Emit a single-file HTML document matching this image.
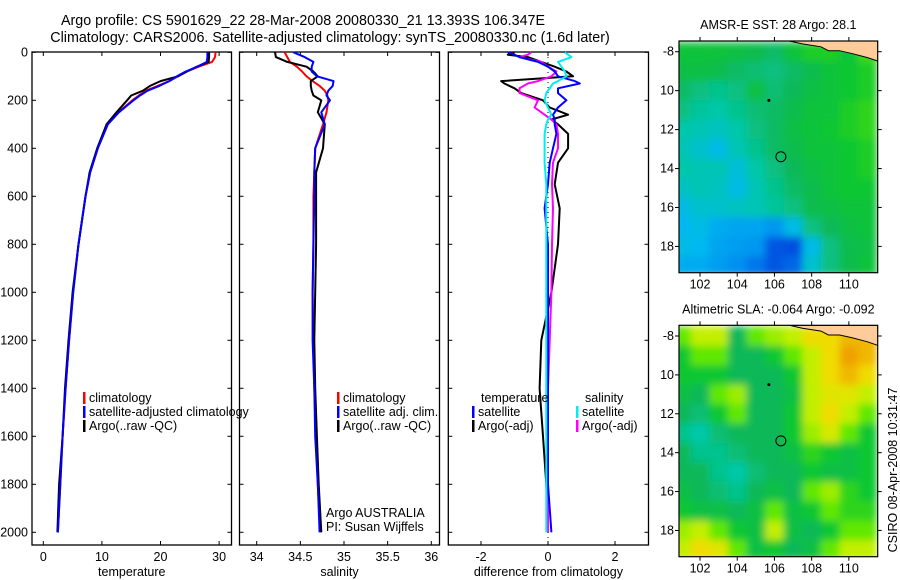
<!DOCTYPE html>
<html><head><meta charset="utf-8"><style>
html,body{margin:0;padding:0;background:#fff}
svg{display:block;font-family:"Liberation Sans",sans-serif}
</style></head><body>
<svg id="fig" width="900" height="580" viewBox="0 0 900 580" xmlns="http://www.w3.org/2000/svg">
<defs>
<filter id="blur1" filterUnits="userSpaceOnUse" x="679" y="41" width="199" height="232"><feGaussianBlur stdDeviation="4" edgeMode="duplicate"/></filter>
<filter id="blur2" filterUnits="userSpaceOnUse" x="679" y="325" width="199" height="232"><feGaussianBlur stdDeviation="4" edgeMode="duplicate"/></filter>
<clipPath id="clipm1"><rect x="679" y="41" width="199" height="232"/></clipPath>
<clipPath id="clipm2"><rect x="679" y="325" width="199" height="232"/></clipPath>
</defs>
<text x="303" y="25" font-size="14.3" text-anchor="middle">Argo profile: CS 5901629_22 28-Mar-2008 20080330_21 13.393S 106.347E</text>
<text x="330" y="42" font-size="14.3" text-anchor="middle">Climatology: CARS2006. Satellite-adjusted climatology: synTS_20080330.nc (1.6d later)</text>
<g id="g"></g>
</svg>
<script>
// ---------- data ----------
const depths = [0,20,40,60,80,100,120,140,160,180,200,250,300,400,500,600,800,1000,1200,1400,1600,1800,2000];
const tempClim = [29.4,29.3,28.8,26.5,24.5,23.0,21.5,19.5,17.5,16.3,15.2,12.8,11.0,9.3,8.0,7.2,6.0,5.1,4.4,3.8,3.3,2.9,2.5];
const tempSat  = [28.0,28.0,27.9,26.3,24.3,22.8,21.5,19.8,17.8,16.5,15.4,12.9,11.0,9.3,8.0,7.2,6.0,5.1,4.4,3.8,3.3,2.9,2.5];
const tempArgo = [28.3,28.3,28.2,26.2,24.5,23.0,20.0,18.2,17.0,15.0,14.3,12.5,10.8,9.2,7.9,7.2,6.0,5.0,4.3,3.7,3.3,2.7,2.4];
const salClim = [34.32,34.35,34.38,34.46,34.52,34.57,34.64,34.72,34.78,34.81,34.82,34.80,34.76,34.67,34.66,34.65,34.65,34.64,34.65,34.66,34.68,34.70,34.73];
const salSat  = [34.42,34.55,34.65,34.63,34.63,34.69,34.88,34.87,34.82,34.80,34.84,34.74,34.78,34.67,34.66,34.66,34.65,34.64,34.64,34.66,34.67,34.70,34.72];
const salArgo = [34.21,34.22,34.35,34.57,34.65,34.70,34.62,34.62,34.63,34.65,34.74,34.70,34.78,34.76,34.68,34.68,34.68,34.67,34.66,34.67,34.69,34.71,34.74];
const diffDepths = [0,10,20,40,60,80,100,120,130,150,170,200,230,260,280,300,340,400,460,550,650,800,1000,1200,1400,1600,1800,2000];
const diffTempArgo = [-1.0,-1.2,-0.6,-0.2,0.2,0.55,0.75,-1.4,-1.3,-1.0,-0.8,-0.15,0.05,0.6,0.1,0.3,0.6,0.6,0.3,0.2,0.35,0.3,0.1,-0.2,-0.25,-0.15,-0.05,0.0];
const diffTempSat  = [-1.2,-1.0,-0.85,-0.3,0.0,0.2,0.3,0.8,0.95,0.3,0.3,0.55,0.3,0.15,0.2,0.2,0.25,0.15,0.05,0.0,-0.1,0.0,0.0,0.0,0.0,0.0,0.0,0.1];
const diffSalArgo  = [-0.5,-0.6,-0.85,-0.2,0.0,0.25,0.1,-0.3,-0.6,-0.85,-0.85,-0.3,-0.4,-0.1,0.1,0.25,0.3,0.3,0.15,0.12,0.15,0.12,0.1,0.05,0.0,0.0,0.0,0.0];
const diffSalSat   = [0.5,0.6,0.7,0.3,0.4,0.5,0.55,0.3,0.15,0.05,-0.05,-0.1,0.0,0.1,0.0,-0.05,-0.1,-0.1,-0.1,-0.05,-0.05,-0.05,-0.05,-0.05,-0.05,-0.05,-0.05,-0.05];
const depthTicks = [0,200,400,600,800,1000,1200,1400,1600,1800,2000];
const tempTicks = [0,10,20,30];
const salTicks = [34,34.5,35,35.5,36];
const diffTicks = [-2,0,2];
const mapLons = [101,102,103,104,105,106,107,108,109,110,111];
const mapLats = [-8,-9,-10,-11,-12,-13,-14,-15,-16,-17,-18,-19];
const lonTicks = [102,104,106,108,110];
const latTicks = [-8,-10,-12,-14,-16,-18];
const sstGrid = [
[28.3,28.3,28.3,28.25,28.2,28.1,28.3,28.4,28.4,28.3,28.5],
[28.25,28.25,28.2,28.1,28.05,28.0,28.1,28.2,28.3,28.35,28.4],
[28.1,28.0,27.95,28.0,28.25,28.05,28.15,28.25,28.3,28.35,28.4],
[28.0,27.9,27.85,27.95,28.05,28.1,28.2,28.3,28.3,28.4,28.45],
[27.85,27.8,27.75,27.85,28.0,28.1,28.25,28.3,28.35,28.4,28.45],
[27.8,27.7,27.6,27.8,27.95,28.1,28.2,28.3,28.3,28.35,28.4],
[27.85,27.8,27.8,27.65,27.85,28.0,28.15,28.25,28.3,28.35,28.4],
[27.75,27.8,27.75,27.6,27.8,27.95,28.1,28.2,28.3,28.35,28.35],
[27.6,27.7,27.7,27.75,27.8,27.9,28.0,28.2,28.25,28.3,28.3],
[27.55,27.6,27.45,27.4,27.4,27.3,27.6,28.0,28.15,28.25,28.3],
[27.6,27.55,27.4,27.35,27.3,26.9,26.85,27.6,28.0,28.2,28.25],
[27.45,27.45,27.35,27.25,27.1,26.9,27.0,27.7,28.0,28.2,28.3]];
const slaGrid = [
[0.07,0.12,0.12,-0.02,0.07,0.10,0.12,0.17,0.17,0.20,0.20],
[0.02,0.07,0.07,-0.02,-0.02,0.02,0.07,0.12,0.17,0.22,0.20],
[0.02,0.02,0.02,-0.02,-0.02,-0.02,0.02,0.12,0.17,0.20,0.17],
[0.0,-0.02,0.07,0.10,-0.02,-0.02,0.0,0.12,0.15,0.15,0.12],
[-0.02,-0.04,0.02,0.07,-0.02,-0.02,0.02,0.12,0.17,0.12,0.07],
[-0.06,-0.08,-0.04,-0.02,-0.02,-0.02,0.02,0.10,0.14,0.07,0.02],
[-0.02,-0.06,-0.06,-0.04,-0.02,-0.02,0.0,0.04,0.02,0.0,0.02],
[-0.02,-0.02,-0.06,-0.08,-0.04,-0.02,-0.02,0.02,0.0,0.0,0.02],
[0.0,-0.02,-0.04,-0.06,-0.02,0.0,-0.02,0.07,0.10,0.04,0.02],
[0.02,0.0,0.0,-0.02,0.0,0.07,0.0,0.02,0.07,0.04,0.04],
[0.10,0.12,0.07,0.02,0.0,0.12,0.0,-0.02,0.02,0.07,0.07],
[0.12,0.17,0.15,0.07,0.0,0.02,-0.02,0.0,0.07,0.12,0.12]];
const coastLon = [106.8,107.5,108.5,108.9,109.5,110.2,111.0,111.6];
const coastLat = [-7.45,-7.6,-7.75,-7.95,-7.95,-8.1,-8.3,-8.5];
const floatLon = 106.347, floatLat = -13.393;

// ---------- helpers ----------
const NS="http://www.w3.org/2000/svg";
const G=document.getElementById('g');
function mk(tag,attrs,parent){const e=document.createElementNS(NS,tag);for(const k in attrs)e.setAttribute(k,attrs[k]);(parent||G).appendChild(e);return e;}
const yTop=52.3, yPx=0.24, boxTop=52, boxBot=545;
const yD=d=>yTop+d*yPx;
const panels=[
 {x0:32,x1:231.5,sx:v=>43.3+v*5.86,ticks:tempTicks,label:'temperature',name:'temperature-panel'},
 {x0:239.5,x1:439.5,sx:v=>256.7+(v-34)*87.3,ticks:salTicks,label:'salinity',name:'salinity-panel'},
 {x0:448.3,x1:648.5,sx:v=>548+v*33.5,ticks:diffTicks,label:'difference from climatology',name:'difference-panel'}];
panels.forEach((p,i)=>{
 const r=mk('rect',{x:p.x0,y:boxTop,width:p.x1-p.x0,height:boxBot-boxTop,fill:'none',stroke:'#000','stroke-width':1.3});
 
 
 p.ticks.forEach(t=>{const x=p.sx(t);
  mk('line',{x1:x,x2:x,y1:boxBot,y2:boxBot-4,stroke:'#000'});
  mk('line',{x1:x,x2:x,y1:boxTop,y2:boxTop+4,stroke:'#000'});
  const tx=mk('text',{x:x,y:561,'font-size':12.5,'text-anchor':'middle'});tx.textContent=String(t);
  
  
 });
 depthTicks.forEach(d=>{const y=yD(d);
  mk('line',{x1:p.x0,x2:p.x0+4,y1:y,y2:y,stroke:'#000'});
  mk('line',{x1:p.x1,x2:p.x1-4,y1:y,y2:y,stroke:'#000'});
  if(i===0){const t=mk('text',{x:28,y:y+4,'font-size':12.5,'text-anchor':'end'});t.textContent=String(d);
   
   }
 });
 const xl=mk('text',{x:(p.x0+p.x1)/2,y:576,'font-size':12.5,'text-anchor':'middle'});xl.textContent=p.label;
 
 
});
function line(p,vals,ds,color,name,w){
 const pts=vals.map((v,k)=>p.sx(v).toFixed(1)+','+yD(ds[k]).toFixed(1)).join(' ');
 const e=mk('polyline',{points:pts,fill:'none',stroke:color,'stroke-width':w||2,'stroke-linejoin':'round'});
 
 
}
line(panels[0],tempClim,depths,'#f00','temperature-climatology-line');
line(panels[0],tempArgo,depths,'#000','temperature-argo-line');
line(panels[0],tempSat,depths,'#00f','temperature-satellite-line');
line(panels[1],salClim,depths,'#f00','salinity-climatology-line');
line(panels[1],salArgo,depths,'#000','salinity-argo-line');
line(panels[1],salSat,depths,'#00f','salinity-satellite-line');
mk('line',{x1:panels[2].sx(0),x2:panels[2].sx(0),y1:boxTop,y2:boxBot,stroke:'#000','stroke-dasharray':'1,4'});
line(panels[2],diffTempArgo,diffDepths,'#000','temperature-argo-diff-line');
line(panels[2],diffSalArgo,diffDepths,'#f0f','salinity-argo-diff-line');
line(panels[2],diffTempSat,diffDepths,'#00f','temperature-satellite-diff-line');
line(panels[2],diffSalSat,diffDepths,'#0ee','salinity-satellite-diff-line');

function legend(x,y,color,text,name){
 const b=mk('rect',{x:x,y:y-10,width:2.5,height:12,fill:color});
 
 
 const t=mk('text',{x:x+6,y:y,'font-size':12.5});t.textContent=text;
 
 
}
legend(83,402,'#f00','climatology','legend-climatology');
legend(83,416,'#00f','satellite-adjusted climatology','legend-satellite-adjusted');
legend(83,430,'#000','Argo(..raw -QC)','legend-argo');
legend(337,402,'#f00','climatology','legend-sal-climatology');
legend(337,416,'#00f','satellite adj. clim.','legend-sal-satellite');
legend(337,430,'#000','Argo(..raw -QC)','legend-sal-argo');
let tt=mk('text',{x:481,y:402,'font-size':12.5});tt.textContent='temperature';


tt=mk('text',{x:585,y:402,'font-size':12.5});tt.textContent='salinity';


legend(472,416,'#00f','satellite','legend-diff-temp-satellite');
legend(472,430,'#000','Argo(-adj)','legend-diff-temp-argo');
legend(576,416,'#0ee','satellite','legend-diff-sal-satellite');
legend(576,430,'#f0f','Argo(-adj)','legend-diff-sal-argo');
tt=mk('text',{x:326,y:517,'font-size':12.5});tt.textContent='Argo AUSTRALIA';


tt=mk('text',{x:326,y:531,'font-size':12.5});tt.textContent='PI: Susan Wijffels';



// ---------- maps ----------
const cstops=[[0,[0,48,192]],[0.12,[0,80,224]],[0.25,[0,144,240]],[0.35,[0,184,240]],[0.45,[0,200,168]],[0.55,[16,184,88]],[0.62,[16,200,48]],[0.7,[96,232,0]],[0.78,[192,240,0]],[0.86,[240,224,0]],[0.95,[240,160,0]],[1,[224,112,0]]];
function cmap(t){t=Math.max(0,Math.min(1,t));for(let i=1;i<cstops.length;i++){if(t<=cstops[i][0]){const a=cstops[i-1],b=cstops[i],f=(t-a[0])/(b[0]-a[0]);const c=a[1].map((v,k)=>Math.round(v+(b[1][k]-v)*f));return 'rgb('+c.join(',')+')';}}return 'rgb(224,112,0)';}
function drawMap(m){
 const lonL=100.87,lonR=111.55,latT=-7.45,latB=-19.35;
 const sx=l=>m.x0+(l-lonL)/(lonR-lonL)*(m.x1-m.x0);
 const sy=l=>m.y0+(latT-l)/(latT-latB)*(m.y1-m.y0);
 const cg=mk('g',{'clip-path':'url(#'+m.clip+')'});
 const hg=mk('g',{filter:'url(#'+m.filter+')'},cg);
 m.grid.forEach((row,r)=>row.forEach((v,c)=>{
  const x=sx(mapLons[c]-0.5),y=sy(mapLats[r]+0.5);
  const cell=mk('rect',{x:x.toFixed(1),y:y.toFixed(1),width:(sx(1)-sx(0)+0.6).toFixed(1),height:(sy(0)-sy(1)+0.6).toFixed(1),fill:cmap(m.tf(v))},hg);
  
  
 }));
 let lp='M'+sx(coastLon[0])+','+m.y0+' ';
 coastLon.forEach((l,k)=>{lp+='L'+sx(l).toFixed(1)+','+sy(coastLat[k]).toFixed(1)+' ';});
 lp+='L'+m.x1+','+m.y0+'Z';
 const land=mk('path',{d:lp,fill:'#ffcc99',stroke:'#000','stroke-width':1},cg);
 
 
 mk('circle',{cx:sx(105.7),cy:sy(-10.5),r:1.5,fill:'#000'},cg);
 const fl=mk('circle',{cx:sx(floatLon),cy:sy(floatLat),r:5,fill:'none',stroke:'#000','stroke-width':1},cg);
 
 
 mk('rect',{x:m.x0,y:m.y0,width:m.x1-m.x0,height:m.y1-m.y0,fill:'none',stroke:'#000','stroke-width':1.2});
 lonTicks.forEach(l=>{const x=sx(l);
  mk('line',{x1:x,x2:x,y1:m.y0,y2:m.y0-4,stroke:'#000'});
  mk('line',{x1:x,x2:x,y1:m.y1,y2:m.y1+4,stroke:'#000'});
  const t=mk('text',{x:x,y:m.y1+16,'font-size':12.5,'text-anchor':'middle'});t.textContent=String(l);
  
  });
 latTicks.forEach(l=>{const y=sy(l);
  mk('line',{x1:m.x0,x2:m.x0-4,y1:y,y2:y,stroke:'#000'});
  mk('line',{x1:m.x1,x2:m.x1+4,y1:y,y2:y,stroke:'#000'});
  const t=mk('text',{x:m.x0-5,y:y+4,'font-size':12.5,'text-anchor':'end'});t.textContent=l===-8?'-8':String(-l);
  
  });
 const ti=mk('text',{x:(m.x0+m.x1)/2,y:m.y0-12,'font-size':12.5,'text-anchor':'middle'});ti.textContent=m.title;
 
 
}
drawMap({x0:679,x1:877.7,y0:41,y1:272.7,grid:sstGrid,tf:v=>(v-26.5)/3,clip:'clipm1',filter:'blur1',name:'sst-map',title:'AMSR-E SST: 28 Argo: 28.1'});
drawMap({x0:679,x1:877.7,y0:325.3,y1:556.7,grid:slaGrid,tf:v=>(v+0.35)/0.6,clip:'clipm2',filter:'blur2',name:'sla-map',title:'Altimetric SLA: -0.064 Argo: -0.092'});
const st=mk('text',{x:897,y:470,'font-size':12.5,'text-anchor':'middle',transform:'rotate(-90 897 470)'});st.textContent='CSIRO 08-Apr-2008 10:31:47';


</script>
</body></html>
